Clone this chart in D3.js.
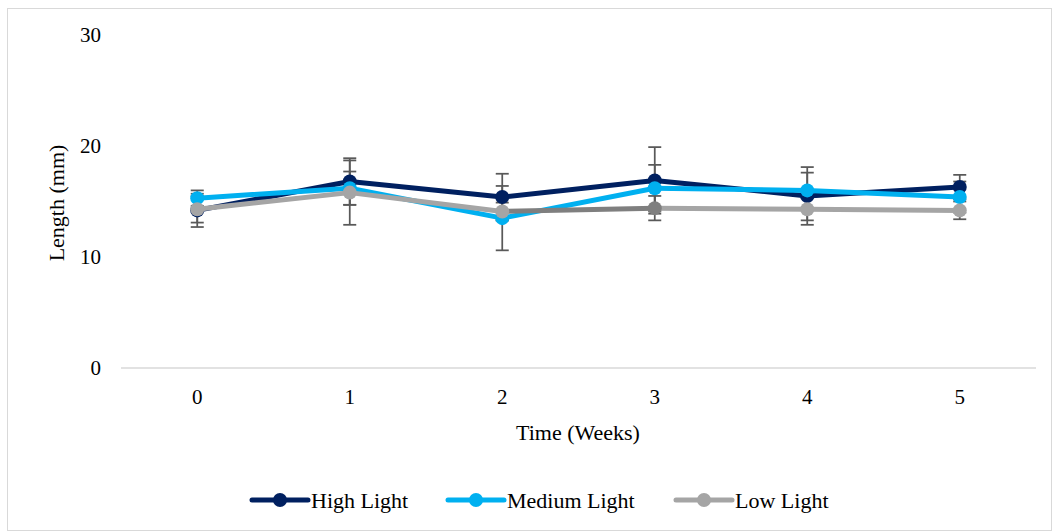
<!DOCTYPE html>
<html>
<head>
    <title>Length over time</title>
    <script src="https://d3js.org/d3.v7.min.js"></script>
    <style>
        body { margin: 0; background: #fff; }
        svg text { font-family: "Liberation Serif", "DejaVu Serif", "Noto Serif", Tinos, Times, "Times New Roman", Georgia, serif; }
    </style>
</head>
<body>
    <svg id="chart" width="1053" height="532"></svg>
    <script>
        // data
        const weeks = ["0", "1", "2", "3", "4", "5"];
        const yTicks = [0, 10, 20, 30];
        const seriesNames = ["High Light", "Medium Light", "Low Light"];
        const highLight = [14.2, 16.8, 15.4, 16.9, 15.5, 16.3];
        const mediumLight = [15.3, 16.2, 13.5, 16.2, 16.0, 15.4];
        const lowLight = [14.3, 15.8, 14.1, 14.4, 14.3, 14.2];
        const highErr = [1.5, 2.1, 2.1, 3.0, 2.6, 1.1];
        const mediumErr = [0.7, 1.5, 2.9, 2.1, 1.6, 1.4];
        const lowErr = [1.2, 2.9, 0.8, 1.1, 1.0, 0.8];

        const colors = ["#002060", "#00b0f0", "#a5a5a5"];
        const series = [
            { name: seriesNames[0], values: highLight, err: highErr, color: colors[0] },
            { name: seriesNames[1], values: mediumLight, err: mediumErr, color: colors[1] },
            { name: seriesNames[2], values: lowLight, err: lowErr, color: colors[2] }
        ];

        var svg = d3.select("#chart");

        // outer frame
        svg.append("rect")
            .attr("x", 7.5).attr("y", 8.5)
            .attr("width", 1044).attr("height", 522)
            .attr("fill", "none").attr("stroke", "#d9d9d9");

        var x = d3.scalePoint().domain(weeks).range([121, 1036]).padding(0.5);
        var y = d3.scaleLinear().domain([0, 30]).range([368, 35]);

        // y tick labels
        svg.append("g").selectAll("text")
            .data(yTicks).enter().append("text")
            .attr("x", 101)
            .attr("y", d => y(d))
            .attr("dy", "0.35em")
            .attr("text-anchor", "end")
            .style("font-size", "21px")
            .text(d => d);

        // x axis line
        svg.append("line")
            .attr("x1", 121).attr("x2", 1036)
            .attr("y1", y(0)).attr("y2", y(0))
            .attr("stroke", "#d9d9d9").attr("stroke-width", 1.5);

        svg.append("g").selectAll("text")
            .data(weeks).enter().append("text")
            .attr("x", d => x(d))
            .attr("y", 397)
            .attr("dy", "0.35em")
            .attr("text-anchor", "middle")
            .style("font-size", "21px")
            .text(d => d);

        // axis titles
        svg.append("text")
            .attr("x", 578).attr("y", 432)
            .attr("dy", "0.35em")
            .attr("text-anchor", "middle")
            .style("font-size", "22px")
            .text("Time (Weeks)");

        svg.append("text")
            .attr("transform", "translate(56," + 203 + ") rotate(-90)")
            .attr("dy", "0.35em")
            .attr("text-anchor", "middle")
            .style("font-size", "22px")
            .text("Length (mm)");

        // error bars, under the lines
        var errG = svg.append("g");
        series.forEach(function(s) {
            s.values.forEach(function(v, i) {
                var cx = x(weeks[i]);
                var top = y(v + s.err[i]), bot = y(v - s.err[i]);
                errG.append("line")
                    .attr("x1", cx).attr("x2", cx).attr("y1", top).attr("y2", bot)
                    .attr("stroke", "#595959").attr("stroke-width", 1.75);
                [top, bot].forEach(function(cy) {
                    errG.append("line")
                        .attr("x1", cx - 6.5).attr("x2", cx + 6.5)
                        .attr("y1", cy).attr("y2", cy)
                        .attr("stroke", "#595959").attr("stroke-width", 1.75);
                });
            });
        });

        // lines and markers
        series.forEach(function(s, si) {
            var g = svg.append("g");
            for (var i = 1; i < s.values.length; i++) {
                // the low light point at week 3 is formatted a darker grey in the original
                var c = (si === 2 && i === 3) ? "#7f7f7f" : s.color;
                g.append("line")
                    .attr("x1", x(weeks[i - 1])).attr("y1", y(s.values[i - 1]))
                    .attr("x2", x(weeks[i])).attr("y2", y(s.values[i]))
                    .attr("stroke", c).attr("stroke-width", 5)
                    .attr("stroke-linecap", "round");
            }
            g.selectAll("circle")
                .data(s.values).enter().append("circle")
                .attr("cx", (d, i) => x(weeks[i]))
                .attr("cy", d => y(d))
                .attr("r", 7)
                .attr("fill", (d, i) => (si === 2 && i === 3) ? "#7f7f7f" : s.color);
        });

        // legend
        var legendX = [252, 448, 676];
        var legend = svg.append("g");
        series.forEach(function(s, i) {
            var lx = legendX[i], ly = 500;
            legend.append("line")
                .attr("x1", lx).attr("x2", lx + 56)
                .attr("y1", ly).attr("y2", ly)
                .attr("stroke", s.color).attr("stroke-width", 5)
                .attr("stroke-linecap", "round");
            legend.append("circle")
                .attr("cx", lx + 28).attr("cy", ly).attr("r", 7)
                .attr("fill", s.color);
            legend.append("text")
                .attr("x", lx + 59).attr("y", ly)
                .attr("dy", "0.35em")
                .style("font-size", "22px")
                .text(s.name);
        });
    </script>
</body>
</html>
